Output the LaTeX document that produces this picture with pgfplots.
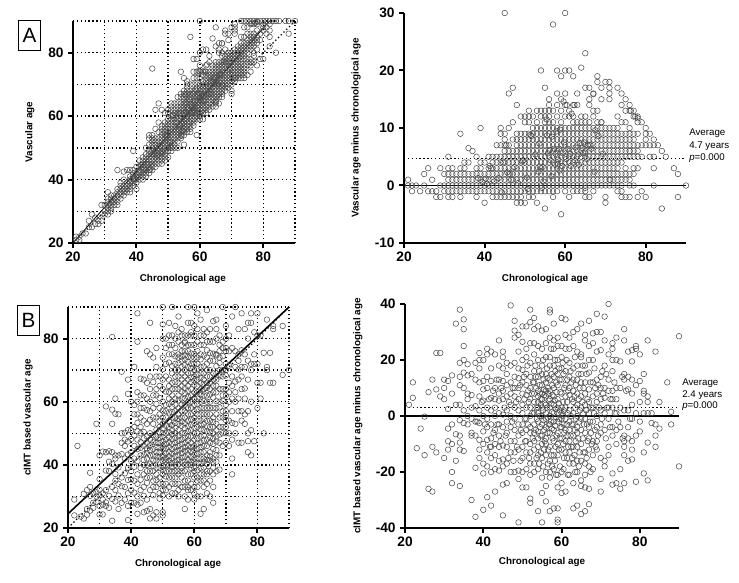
\documentclass[border=0pt]{standalone}
\usepackage{pgfplots}
\usepackage{pgfplotstable}
\usepackage{fontspec}
\setmainfont{Liberation Sans}
\pgfplotsset{compat=1.18}
\newlength{\px}\setlength{\px}{0.75pt}
% Panel A: chronological age, vascular age minus chronological age
\pgfplotstableread[row sep=crcr]{x d\\
21 1\\21 0\\22 0\\22 -1\\23 0\\24 -1\\25 2\\25 0\\26 3\\26 -1\\27 1\\27 -1\\28 -1\\28 -2\\29 3\\29 0\\29 -2\\30 2\\30 0\\30 -1\\
31 5\\31 3\\31 2\\31 1\\31 0\\31 -1\\31 -2\\32 3\\32 2\\32 1\\32 0\\32 -1\\32 -2\\33 2\\33 1\\33 0\\33 -1\\
34 9\\34 3\\34 2\\34 1\\34 0\\34 -1\\34 -2\\35 4\\35 3\\35 2\\35 1\\35 0\\35 -1\\36 6.5\\36 4\\36 2\\36 1\\36 0\\36 -1\\
37 6\\37 2\\37 1\\37 0\\37 -1\\38 5\\38 3\\38 2\\38 1\\38 0\\38 -1\\38 -2\\39 10\\39 4\\39 3\\39 2\\39 1\\39 0\\39 -1\\
40 4\\40 2\\40 1\\40 0\\40 -1\\40 -3\\41 5\\41 3\\41 2\\41 1\\41 0\\41 -1\\42 5\\42 4\\42 3\\42 2\\42 1\\42 0\\42 -1\\42 -2\\
43 7\\43 5\\43 4\\43 3\\43 2\\43 1\\43 0\\43 -1\\43 -2\\44 10\\44 9\\44 7\\44 5\\44 4\\44 3\\44 2\\44 1\\44 0\\44 -1\\44 -2\\
45 30\\45 9\\45 8\\45 7\\45 6\\45 5\\45 4\\45 3\\45 2\\45 1\\45 0\\45 -1\\45 -2\\
46 16\\46 10\\46 7\\46 6\\46 5\\46 4\\46 3\\46 2\\46 1\\46 0\\46 -1\\46 -2\\
47 17\\47 11\\47 8\\47 6\\47 5\\47 4\\47 3\\47 2\\47 1\\47 0\\47 -1\\47 -2\\
48 14\\48 9\\48 8\\48 7\\48 6\\48 5\\48 4\\48 3\\48 2\\48 1\\48 0\\48 -1\\48 -2\\48 -3\\
49 12\\49 9\\49 8\\49 7\\49 6\\49 5\\49 4\\49 3\\49 2\\49 1\\49 0\\49 -1\\49 -2\\49 -3\\
50 12\\50 11\\50 9\\50 8\\50 7\\50 6\\50 5\\50 4\\50 3\\50 2\\50 1\\50 0\\50 -1\\50 -3\\
51 13\\51 12\\51 11\\51 9\\51 8\\51 7\\51 6\\51 5\\51 4\\51 3\\51 2\\51 1\\51 0\\51 -1\\51 -2\\
52 12\\52 10\\52 9\\52 8\\52 7\\52 6\\52 5\\52 4\\52 3\\52 2\\52 1\\52 0\\52 -1\\52 -2\\
53 13\\53 11\\53 10\\53 9\\53 8\\53 7\\53 6\\53 5\\53 4\\53 3\\53 2\\53 1\\53 0\\53 -1\\53 -3\\
54 20\\54 13\\54 12\\54 10\\54 9\\54 8\\54 7\\54 6\\54 5\\54 4\\54 3\\54 2\\54 1\\54 0\\54 -1\\
55 17\\55 13\\55 12\\55 11\\55 10\\55 9\\55 8\\55 7\\55 6\\55 5\\55 4\\55 3\\55 2\\55 1\\55 0\\55 -1\\55 -4\\
56 15\\56 14\\56 13\\56 12\\56 11\\56 10\\56 9\\56 8\\56 7\\56 6\\56 5\\56 4\\56 3\\56 2\\56 1\\56 0\\56 -1\\
57 28\\57 13\\57 11\\57 10\\57 9\\57 8\\57 7\\57 6\\57 5\\57 4\\57 3\\57 2\\57 1\\57 0\\57 -1\\57 -2\\
58 20\\58 16\\58 14\\58 12\\58 10\\58 9\\58 8\\58 7\\58 6\\58 5\\58 4\\58 3\\58 2\\58 1\\58 0\\58 -1\\
59 19\\59 15\\59 13\\59 11\\59 10\\59 9\\59 8\\59 7\\59 6\\59 5\\59 4\\59 3\\59 2\\59 1\\59 0\\59 -5\\
60 30\\60 20\\60 16\\60 14\\60 12\\60 10\\60 9\\60 8\\60 7\\60 6\\60 5\\60 4\\60 3\\60 2\\60 1\\60 0\\60 -1\\
61 20\\61 13\\61 12\\61 10\\61 9\\61 8\\61 7\\61 6\\61 5\\61 4\\61 3\\61 2\\61 1\\61 0\\61 -2\\
62 19\\62 14\\62 12\\62 11\\62 10\\62 9\\62 8\\62 7\\62 6\\62 5\\62 4\\62 3\\62 2\\62 1\\62 0\\62 -1\\
63 16\\63 14\\63 11\\63 10\\63 9\\63 8\\63 7\\63 6\\63 5\\63 4\\63 3\\63 2\\63 1\\63 0\\63 -1\\
64 20.5\\64 12\\64 11\\64 10\\64 9\\64 8\\64 7\\64 6\\64 5\\64 4\\64 3\\64 2\\64 1\\64 0\\64 -1\\
65 23\\65 17\\65 12\\65 11\\65 10\\65 9\\65 8\\65 7\\65 6\\65 5\\65 4\\65 3\\65 2\\65 1\\65 0\\65 -1\\65 -2\\
66 17\\66 15\\66 14\\66 11\\66 10\\66 9\\66 8\\66 7\\66 6\\66 5\\66 4\\66 3\\66 2\\66 1\\66 0\\66 -2\\
67 16\\67 13\\67 12\\67 10\\67 9\\67 8\\67 7\\67 6\\67 5\\67 4\\67 3\\67 2\\67 1\\67 0\\67 -1\\
68 19\\68 18\\68 13\\68 11\\68 10\\68 9\\68 8\\68 7\\68 6\\68 5\\68 4\\68 3\\68 2\\68 1\\68 0\\
69 17\\69 15\\69 11\\69 10\\69 9\\69 8\\69 7\\69 6\\69 5\\69 4\\69 3\\69 2\\69 1\\69 0\\
70 18\\70 10\\70 9\\70 8\\70 7\\70 6\\70 5\\70 4\\70 3\\70 2\\70 1\\70 0\\70 -2\\70 -3\\
71 18\\71 17\\71 16\\71 15\\71 10\\71 9\\71 8\\71 7\\71 6\\71 5\\71 4\\71 3\\71 2\\71 1\\71 0\\
72 10\\72 9\\72 8\\72 7\\72 6\\72 5\\72 4\\72 3\\72 2\\72 1\\72 0\\
73 17\\73 12\\73 10\\73 9\\73 8\\73 7\\73 6\\73 5\\73 4\\73 3\\73 2\\73 1\\73 0\\73 -1\\
74 16\\74 14\\74 11\\74 9\\74 8\\74 7\\74 6\\74 5\\74 4\\74 2\\74 1\\74 0\\74 -1\\74 -2\\
75 15\\75 13\\75 11\\75 9\\75 8\\75 7\\75 6\\75 5\\75 3\\75 2\\75 1\\75 -2\\
76 14\\76 13\\76 10\\76 9\\76 8\\76 7\\76 6\\76 5\\76 2\\76 1\\76 0\\76 -2\\
77 13\\77 12\\77 9\\77 8\\77 7\\77 6\\77 5\\77 3\\77 2\\77 0\\78 12\\78 11\\78 9\\78 7\\78 6\\78 5\\78 3\\78 -2\\
79 11\\79 7\\79 5\\79 -1\\80 10\\80 9\\80 8\\80 7\\80 -2\\81 9\\81 7\\81 5\\82 8\\82 7\\82 5\\82 3\\82 0\\83 7\\84 6\\84 -4\\85 5\\87 3\\88 2\\88 -2\\90 0\\
38.4 1.3\\39.5 0.6\\40.3 1.2\\40.6 0.3\\41.3 3.4\\41.6 3\\42.4 0.7\\43.5 1.3\\44.3 -1.2\\44.6 4\\45.4 7\\45.6 2.3\\46.3 2\\46.6 1\\47.4 3.2\\48.3 0.4\\49.6 4.4\\49.4 4.2\\50.5 1.4\\50.7 -0.6\\51.4 8.8\\51.6 8.6\\52.6 5.4\\53.4 2.4\\53.6 7.3\\53.7 3.3\\54.2 -0.4\\54.4 3.2\\54.6 0.7\\55.5 8.7\\55.7 5.6\\55.4 11.5\\56.2 6.2\\56.4 4.4\\56.6 1.6\\56.7 8.5\\57.3 6.4\\57.5 3.6\\57.6 5.5\\57.8 9.4\\58.2 3.7\\58.3 4.5\\58.5 6.4\\58.6 2.6\\58.7 9.7\\59.3 3.4\\59.4 5.6\\59.6 14.6\\59.7 7.5\\60.3 4.6\\60.4 14\\60.6 6.4\\61.3 5.5\\61.4 3.4\\61.6 12.5\\62.3 14\\62.4 4.4\\62.6 6.6\\63.3 5.4\\63.4 3.6\\63.6 7.4\\64.3 6.5\\64.5 5.6\\64.7 7.5\\65 5.7\\65 -0.4\\65.4 4.6\\65.6 7\\66.3 7\\66.5 6.4\\67 15.9\\67.3 2.4\\67.5 9.6\\68.3 8.6\\69 11\\69.4 5.5\\71.2 1\\76 6\\76.3 13\\77.4 12\\78 11.7\\
}\tableA
% Panel B, left: chronological age, cIMT based vascular age
\pgfplotstableread[row sep=crcr]{x y\\
22 29\\22 24\\23 46\\24 23.6\\25 23\\25 30.8\\26 24.2\\26 32\\26 26\\27 37.5\\27 33\\27 25.5\\27 30.2\\28 28\\28 26.4\\28 31\\29 53\\29 31.3\\29 28.2\\29 30\\
30 35.5\\30 43\\30 30.4\\30 27\\30 32.1\\30 24.3\\31 44.2\\31 31\\31 29\\31 24.3\\31 27.4\\32 58.5\\32 44\\32 38.2\\32 28.1\\32 32\\32 27\\33 44.3\\33 38\\33 30.2\\33 26.4\\33 41\\
34 80.5\\34 57.5\\34 53\\34 44\\34 40.3\\34 22.3\\34 33\\34 29.2\\35 61\\35 56.2\\35 43\\35 37.1\\35 32\\35 28.4\\35 42\\35 35\\36 56\\36 39.2\\36 34\\36 26\\36 30.3\\36 43\\
37 69.5\\37 50\\37 43.4\\37 36\\37 33.2\\37 28\\37 47\\38 50.2\\38 48\\38 42\\38 37.3\\38 33\\38 29\\38 46\\39 67\\39 62.5\\39 51\\39 43.3\\39 39\\39 35.2\\39 31\\39 27\\39 22.5\\39 47.4\\
40 60\\40 51\\40 48.2\\40 44\\40 38\\40 35.4\\40 32\\40 28\\40 41.2\\41 71\\41 56\\41 49.3\\41 46\\41 42\\41 39.4\\41 35\\41 31.2\\41 28\\
42 88\\42 79\\42 63\\42 56\\42 53.3\\42 48\\42 45\\42 41.2\\42 37\\42 34\\42 30\\42 27.4\\42 24.5\\43 62\\43 55\\43 52\\43 47.2\\43 43\\43 39\\43 35.3\\43 32\\43 28\\43 67.3\\
44 67\\44 58\\44 54\\44 50.4\\44 46\\44 43.3\\44 40\\44 33\\44 30.2\\44 25\\45 76\\45 66\\45 57.4\\45 53\\45 49\\45 45.2\\45 42\\45 38\\45 34.3\\45 29\\45 25.4\\
46 85\\46 75\\46 68\\46 60\\46 54.3\\46 50\\46 46.2\\46 43\\46 40.4\\46 36\\46 32\\46 26\\46 23\\47 74\\47 66.2\\47 58\\47 53\\47 49.4\\47 45\\47 41.3\\47 38\\47 35\\47 30.4\\47 24\\
48 77\\48 71\\48 68\\48 64\\48 59.3\\48 55\\48 51.2\\48 47\\48 44\\48 41.4\\48 37\\48 35.2\\48 25\\48 23\\49 65\\49 61.2\\49 58\\49 54\\49 50.3\\49 47\\49 44\\49 42.4\\49 39\\49 36\\49 31\\49 29.3\\
50 90\\50 84.5\\50 80\\50 74\\50 70.3\\50 64\\50 60\\50 57.2\\50 53\\50 50\\50 47.4\\50 45\\50 43\\50 41.2\\50 37\\50 34\\50 30.3\\50 25\\50 24\\
51 80\\51 68\\51 63.2\\51 59\\51 55\\51 52.4\\51 48\\51 45.2\\51 42\\51 40\\51 36.3\\51 32\\52 85\\52 78\\52 72.4\\52 67\\52 63\\52 59.3\\52 54\\52 50.2\\52 47\\52 44\\52 41.4\\52 38\\52 33\\52 30\\
53 90\\53 81\\53 75\\53 71.3\\53 66\\53 62\\53 58.4\\53 55\\53 51\\53 48.2\\53 45\\53 42\\53 39.3\\53 36\\53 31\\54 84\\54 80\\54 74.4\\54 70\\54 66.2\\54 61\\54 57\\54 53.3\\54 50\\54 47\\54 44.2\\54 41\\54 38\\54 34\\
55 87\\55 79\\55 75\\55 72.2\\55 68\\55 64\\55 60.4\\55 56\\55 53\\55 49.3\\55 46\\55 43\\55 40.2\\55 37\\55 34\\55 30\\56 83\\56 78\\56 74.3\\56 71\\56 67\\56 63.2\\56 59\\56 55\\56 52.4\\56 48\\56 45\\56 42.3\\56 39\\56 36\\
57 81\\57 76\\57 73.4\\57 70\\57 68\\57 64.3\\57 61\\57 57\\57 53.2\\57 50\\57 47\\57 44.4\\57 41\\57 38\\57 33\\57 26\\58 90\\58 85\\58 81\\58 74.2\\58 71\\58 67\\58 63.4\\58 60\\58 56\\58 52.3\\58 49\\58 46\\58 43.2\\58 40\\58 35\\58 32\\58 29\\
59 85\\59 78\\59 75.3\\59 72\\59 69\\59 66.2\\59 62\\59 58\\59 54.4\\59 51\\59 47\\59 44.3\\59 41\\59 37\\59 34\\60 90\\60 84\\60 75.2\\60 72\\60 68\\60 65.4\\60 61\\60 57\\60 53.3\\60 50\\60 46\\60 43.2\\60 41\\60 36\\60 31\\60 29\\
61 88\\61 79\\61 74\\61 70.3\\61 67\\61 63\\61 59.2\\61 56\\61 52\\61 48.4\\61 45\\61 42\\61 38.3\\61 35\\61 30\\62 86\\62 81\\62 73.4\\62 69\\62 66\\62 62.2\\62 58\\62 54\\62 51.3\\62 47\\62 44\\62 40.4\\62 37\\62 30\\62 24.5\\
63 83\\63 78\\63 71.2\\63 67\\63 64\\63 60.3\\63 56\\63 53\\63 49.4\\63 46\\63 42\\63 39.2\\63 33\\63 26\\64 89\\64 82\\64 76.3\\64 72\\64 68\\64 64.4\\64 60\\64 56\\64 52.2\\64 48\\64 43\\64 40.3\\64 37\\64 31\\
65 79\\65 75.4\\65 70\\65 66\\65 62.3\\65 58\\65 54\\65 50.2\\65 47\\65 44\\65 41.4\\65 30\\66 85.5\\66 79\\66 75.2\\66 69\\66 65\\66 61.3\\66 55\\66 52\\66 48.4\\66 45\\66 42\\66 33\\66 28\\
67 86\\67 80\\67 75\\67 71.3\\67 67\\67 63\\67 60.2\\67 56\\67 51\\67 47.4\\67 43\\67 41\\68 81\\68 78\\68 72.3\\68 68\\68 64\\68 58.2\\68 52\\68 47\\68 38.5\\69 90\\69 79\\69 74.4\\69 70\\69 64\\69 60.3\\69 55\\69 50\\
70 84\\70 80\\70 72\\70 68.3\\70 62\\70 59\\70 57\\70 54.2\\70 52\\70 50\\71 81\\71 76\\71 71.4\\71 66\\71 60\\71 54\\71 46\\72 87\\72 77\\72 68\\72 61\\72 53.3\\72 48\\72 42\\72 37\\
73 90\\73 76\\73 71\\73 66.4\\73 60\\73 53\\74 83\\74 75\\74 70.2\\74 67\\74 61\\74 47\\75 88\\75 76.3\\75 71\\75 64\\75 57\\75 54\\76 83\\76 75\\76 71\\76 64.2\\76 61\\76 56\\76 53\\
77 85\\77 80\\77 73\\77 67\\77 57\\77 50\\77 47.5\\77 44\\78 88\\78 85\\78 72\\78 70\\78 60\\78 51\\78 43\\79 82\\79 75\\79 72\\79 47.5\\80 88\\80 81\\80 72\\80 66\\80 58\\81 81\\81 66\\81 61\\
82 75.5\\82 50\\83 86\\83 71\\83 70\\84 75.5\\84 66\\85 84\\85 83\\85 66\\88 84\\88 68.5\\90 70\\
42 50.6\\43 45.4\\43 50\\44 48.4\\44 41.6\\45 47\\45 43.7\\45 40\\46 48\\46 44.6\\46 38\\47 43\\47 39.7\\47 47.2\\48 49\\48 45.6\\48 42.7\\48 39\\49 48.6\\49 45.5\\49 41\\49 52\\
50 55\\50 51.6\\50 48.8\\50 46\\50 42.4\\50 39.6\\51 57\\51 50\\51 46.7\\51 43.6\\51 41\\51 38\\52 65\\52 61\\52 56.6\\52 52\\52 48.7\\52 45.6\\52 42.7\\52 40\\
53 69\\53 64\\53 60\\53 56.7\\53 52.6\\53 49.7\\53 46.7\\53 43.6\\53 40.6\\54 72\\54 68\\54 64\\54 59\\54 55\\54 51.7\\54 48.6\\54 45.6\\54 42.7\\54 40\\
55 74\\55 70\\55 66\\55 62\\55 58\\55 54.6\\55 51\\55 47.7\\55 44.6\\55 41.6\\56 76\\56 73\\56 69\\56 65\\56 61\\56 57\\56 53.7\\56 50\\56 46.6\\56 43.7\\56 41\\
57 78.6\\57 74.7\\57 71.6\\57 66\\57 62.7\\57 59\\57 55\\57 51.6\\57 48.6\\57 45.6\\57 42.6\\57 40\\58 76\\58 72.6\\58 69\\58 65\\58 61.6\\58 58\\58 54\\58 50.6\\58 47.7\\58 44.6\\58 41.6\\
59 82\\59 74\\59 70.6\\59 67.7\\59 64\\59 60\\59 56\\59 52.7\\59 49\\59 45.6\\59 42.6\\59 40\\60 78\\60 74\\60 70\\60 66.7\\60 63\\60 59\\60 55\\60 51.7\\60 48\\60 44.7\\60 42\\60 39\\
61 76\\61 72\\61 68.6\\61 65\\61 61\\61 57.6\\61 54\\61 50\\61 46.7\\61 43.6\\61 40.6\\62 75\\62 71\\62 67.6\\62 64\\62 60\\62 56\\62 52.7\\62 49\\62 45.6\\62 42\\
63 74.6\\63 69\\63 65.6\\63 62\\63 58\\63 54.6\\63 51\\63 47.7\\63 44\\63 41\\64 74\\64 70\\64 66\\64 62\\64 58\\64 54\\64 50.6\\64 46\\64 41.6\\65 73\\65 68\\65 64\\65 60\\65 56\\65 52\\65 48.7\\65 42.7\\
66 73\\66 67\\66 63\\66 58\\66 53.6\\66 50\\66 46.7\\66 41\\67 74.7\\67 69\\67 65\\67 58\\67 53\\67 49\\67 44.7\\68 74\\68 70\\68 60\\68 55\\68 49.6\\69 68\\69 62\\69 57\\69 52\\70 76\\70 70\\70 64\\70 55.7\\
41 52\\41 59\\42 60\\43 58\\44 62\\44 37\\45 61\\45 36\\46 57\\46 64\\47 62\\47 55\\47 33\\48 62\\48 33\\49 68\\49 34\\49 56\\50 67\\50 32\\50 38.4\\51 72\\51 34\\51 77\\52 36\\52 81\\52 75\\53 34\\53 38\\53 78\\54 36\\54 31\\54 77\\55 32\\55 38\\55 82\\56 38\\56 33\\56 81\\57 35\\57 30\\57 79\\58 37\\58 33\\58 78\\59 39\\59 32\\59 81\\60 38\\60 33\\60 81\\61 36\\61 33\\61 83\\62 35\\62 39\\62 78\\63 37\\63 35\\63 81\\64 38\\64 34\\64 79\\65 38\\65 35\\65 83\\66 37\\66 39\\67 38\\67 83\\68 43\\68 76\\69 46\\69 77\\70 47\\70 77\\71 50\\71 63\\72 57\\72 65\\73 50\\73 63\\74 57\\74 73\\75 47\\75 68\\
}\tableBl
% Panel B, right: chronological age, cIMT based vascular age minus chronological age
\pgfplotstableread[row sep=crcr]{x d\\
21 4\\22 12\\22 6.5\\23 -11.5\\24 -4.5\\25 -0.2\\25 -14\\26 8.5\\26 -26\\27 13\\27 -11\\27 -27\\28 22.5\\28 9.5\\28 -13\\29 22.5\\29 7\\30 13\\30 10\\30 6\\30 -15\\
31 12.5\\31 2.5\\31 -4.5\\31 -9\\31 -12\\32 14.5\\32 8\\32 -3\\32 -10\\32 -20\\32 -24\\33 33\\33 4\\33 -6.5\\33 -16\\34 38\\34 19\\34 14\\34 11\\34 4\\34 -1.5\\34 -7\\34 -9.5\\34 -12\\34 -25\\
35 34.5\\35 31\\35 25\\35 20\\35 15.5\\35 10\\35 2\\35 -2.5\\35 -12.5\\36 18.5\\36 14.5\\36 8\\36 6\\36 0\\36 -3\\37 15\\37 7.5\\37 3\\37 -1\\37 -6\\37 -7\\37 -30\\
38 19\\38 13\\38 3.5\\38 -2\\38 -7\\38 -18.5\\38 -36\\39 22.5\\39 20\\39 17\\39 12\\39 7\\39 2\\39 -2.5\\39 -8.5\\39 -12\\39 -15\\40 20\\40 12.5\\40 9.5\\40 5.5\\40 0\\40 -5.5\\40 -10\\40 -17\\40 -20.5\\40 -33.5\\
41 24\\41 22\\41 14\\41 10\\41 3\\41 -1\\41 -4\\41 -8.5\\41 -13\\41 -18\\41 -29\\42 23\\42 17\\42 12.5\\42 6.5\\42 2\\42 -3\\42 -8\\42 -11\\42 -15\\42 -20\\42 -32\\
43 22\\43 10\\43 6\\43 3\\43 0\\43 -5\\43 -10\\43 -14\\43 -19\\43 -27\\44 27\\44 18\\44 13\\44 8\\44 5.5\\44 1\\44 -3\\44 -7\\44 -11\\44 -16\\44 -19.5\\
45 23\\45 21\\45 17\\45 12.5\\45 9\\45 6\\45 0.5\\45 -4\\45 -10.5\\45 -15.5\\45 -18\\45 -24.5\\45 -35.5\\46 19\\46 15\\46 11\\46 7\\46 2\\46 -2\\46 -6\\46 -11\\46 -17\\46 -24\\
47 39.5\\47 18\\47 12\\47 8\\47 4\\47 0\\47 -4\\47 -9\\47 -13\\47 -20\\48 34\\48 30.5\\48 28\\48 19\\48 14\\48 10\\48 7\\48 3\\48 -1\\48 -5\\48 -9\\48 -13\\48 -20\\
49 29\\49 23\\49 17\\49 13.5\\49 10\\49 6\\49 2\\49 -3\\49 -7\\49 -12\\49 -19.5\\49 -22.5\\49 -38\\50 32\\50 26.5\\50 20\\50 16.5\\50 12\\50 8\\50 4\\50 1\\50 -3\\50 -6\\50 -11\\50 -15\\50 -20\\50 -25.5\\
51 32\\51 24\\51 21\\51 15\\51 11\\51 7.5\\51 3\\51 -1\\51 -5\\51 -9\\51 -13\\51 -19\\51 -25.5\\52 38\\52 33.5\\52 26\\52 19\\52 14\\52 10\\52 6\\52 3\\52 0\\52 -4\\52 -6\\52 -10\\52 -13\\52 -17\\52 -21\\52 -29.5\\52 -31\\
53 35\\53 31\\53 26\\53 22\\53 16\\53 12\\53 8\\53 5\\53 1\\53 -3\\53 -6\\53 -9\\53 -12\\53 -17\\53 -20\\54 32\\54 25\\54 20\\54 14\\54 9\\54 7\\54 5\\54 3\\54 1\\54 -2\\54 -5.5\\54 -8\\54 -11\\54 -14\\54 -19\\54 -34\\
55 30.5\\55 24\\55 18\\55 15\\55 11\\55 8\\55 6\\55 3\\55 0\\55 -3\\55 -7\\55 -10\\55 -15\\55 -22\\55 -27.5\\55 -38\\56 31\\56 26\\56 21\\56 15\\56 12\\56 9\\56 7\\56 4\\56 1\\56 -1\\56 -4\\56 -8\\56 -10\\56 -14\\56 -20\\56 -25\\56 -30.5\\
57 37\\57 38\\57 28\\57 21\\57 18\\57 13\\57 9\\57 6\\57 3\\57 0\\57 -3\\57 -6\\57 -11\\57 -16\\57 -20\\57 -22\\57 -34\\58 33\\58 27\\58 24\\58 18\\58 14\\58 10\\58 7\\58 4\\58 1\\58 -2\\58 -5\\58 -9\\58 -14\\58 -19\\58 -33\\
59 28\\59 25\\59 20\\59 15\\59 11\\59 6\\59 3\\59 1\\59 -2\\59 -6\\59 -10\\59 -14\\59 -21\\59 -25.5\\59 -33\\59 -37\\59 -38\\60 35\\60 25\\60 21\\60 17\\60 13\\60 8\\60 3\\60 1\\60 -1\\60 -4\\60 -8\\60 -12\\60 -20\\60 -24\\60 -27.5\\
61 34.5\\61 29\\61 24\\61 16\\61 11\\61 7\\61 3\\61 -1\\61 -5\\61 -9\\61 -13\\61 -27\\62 28\\62 24\\62 19\\62 14\\62 10\\62 7.5\\62 2\\62 -2\\62 -5\\62 -9\\62 -13\\62 -17\\62 -21\\63 30\\63 25\\63 17\\63 13\\63 9\\63 5\\63 1\\63 -3\\63 -7\\63 -11\\63 -17\\63 -24\\63 -33\\
64 31\\64 23\\64 18\\64 13\\64 8\\64 4\\64 0\\64 -4\\64 -6\\64 -11\\64 -16\\64 -20\\64 -32\\65 33\\65 22\\65 21\\65 15\\65 12\\65 7\\65 3\\65 -1\\65 -5\\65 -10\\65 -16\\65 -23\\65 -25\\65 -35\\66 29\\66 27\\66 18\\66 12\\66 8\\66 4\\66 -1\\66 -6\\66 -13\\66 -17\\66 -21\\66 -25.5\\66 -34\\
67 34\\67 25\\67 20\\67 15.5\\67 9.5\\67 5\\67 1\\67 -4\\67 -8\\67 -12\\67 -18\\67 -26\\67 -31.5\\68 29.5\\68 26\\68 20\\68 12\\68 7\\68 3\\68 -2\\68 -9\\68 -14\\68 -19\\69 36.5\\69 30\\69 23\\69 13\\69 8\\69 5\\69 0\\69 -4\\69 -9\\69 -12\\
70 30\\70 23.5\\70 14\\70 10\\70 6\\70 2\\70 -3\\70 -6\\70 -15\\70 -22.5\\70 -27\\71 35.5\\71 27\\71 18\\71 10\\71 6.5\\71 1\\71 -5\\71 -16\\71 -18\\72 40\\72 22\\72 13\\72 9\\72 3\\72 -1\\72 -11\\72 -14\\
73 26\\73 24\\73 20\\73 16\\73 9\\73 6\\73 3\\73 -4\\73 -7\\73 -20.5\\73 -24.5\\74 28\\74 20\\74 10\\74 6\\74 1\\74 -5\\74 -10\\74 -24\\75 19.5\\75 10\\75 3\\75 -4\\75 -19\\75 -26\\76 31\\76 27\\76 15\\76 13\\76 2\\76 -7\\76 -9\\76 -11\\76 -14\\76 -24\\
77 23\\77 14\\77 9.5\\77 2\\77 -4\\77 -8\\77 -16\\78 23.5\\78 19.5\\78 13\\78 8\\78 4\\78 -1\\78 -9\\78 -12\\78 -15.5\\79 25\\79 24\\79 11\\79 1\\79 -7\\79 -23.5\\80 22\\80 12.5\\80 5\\80 -2\\80 -5.5\\
81 15\\81 9\\81 8\\81 1\\81 -13\\81 -20.5\\82 27\\82 7\\82 5\\82 1\\82 -9.5\\82 -23\\83 1\\83 -2.5\\84 23\\84 -3\\84 -7\\84 -11\\85 5\\85 -4.5\\87 12\\88 1.5\\88 -3\\90 28.5\\90 -18\\
38.5 -2\\39.6 5\\40.4 -3\\41.5 6\\41.7 -11\\42.5 9\\42.6 -6\\43.4 13\\43.6 -3\\44.4 -9\\44.6 10\\45.4 3\\45.7 -7\\46.4 -15\\46.6 5\\47.5 10\\47.4 -2\\47.7 -16\\48.4 5\\48.6 -11\\49.4 11\\49.6 -5\\49.5 -16\\
50.4 14\\50.5 6\\50.6 -1\\50.7 -9\\51.3 18\\51.5 9\\51.6 5\\51.4 -3\\51.7 -15\\52.4 8\\52.5 1\\52.6 -8\\52.7 12\\53.3 18\\53.4 14\\53.5 10\\53.6 3\\53.7 -1\\53.4 -5\\53.6 -15\\
54.3 16\\54.4 11\\54.5 8\\54.6 6\\54.7 4\\54.4 0\\54.5 -4\\54.6 -7\\54.7 -13\\54.3 -17\\55.3 20\\55.4 13\\55.5 9.5\\55.6 7.5\\55.7 4.5\\55.3 2\\55.4 -1.5\\55.6 -5\\55.7 -9\\55.5 -12\\55.3 -18\\
56.3 17\\56.4 13.5\\56.5 10\\56.6 8\\56.7 5.5\\56.3 3\\56.5 -0.5\\56.7 -3\\56.4 -6\\56.6 -12\\56.5 -17\\57.3 24\\57.5 15\\57.6 11\\57.7 7.5\\57.4 4.5\\57.6 1.5\\57.3 -2\\57.5 -4.5\\57.7 -8\\57.4 -14\\57.6 -18\\
58.3 20\\58.4 16\\58.6 12\\58.7 8.5\\58.3 5.5\\58.5 2.5\\58.6 -0.5\\58.4 -3.5\\58.7 -7\\58.5 -11\\58.3 -16\\58.6 -21\\59.4 17\\59.5 13\\59.7 8.5\\59.3 4.5\\59.6 2\\59.4 -1\\59.7 -4\\59.5 -8\\59.3 -12\\59.6 -18\\
60.3 19\\60.5 15\\60.7 10\\60.4 5\\60.6 2\\60.3 0\\60.5 -3\\60.7 -6\\60.4 -10\\60.6 -15\\60.5 -19\\61.3 20\\61.5 13\\61.7 9\\61.4 5\\61.6 1\\61.3 -3\\61.5 -7\\61.7 -11\\61.4 -15\\61.6 -21\\
62.3 16\\62.5 12\\62.7 6\\62.4 0\\62.6 -3\\62.3 -7\\62.5 -11\\62.7 -15\\63.4 21\\63.6 11\\63.3 7\\63.5 3\\63.7 -1\\63.4 -5\\63.6 -9\\63.3 -14\\63.5 -20\\64.3 15\\64.6 10\\64.4 6\\64.7 2\\64.5 -2\\64.3 -8\\64.6 -13\\64.4 -18\\
65.4 18\\65.6 10\\65.3 5\\65.5 1\\65.7 -3\\65.4 -8\\65.6 -13\\66.4 15\\66.6 6\\66.3 2\\66.5 -3\\66.7 -9\\66.4 -15\\67.4 12\\67.6 3\\67.3 -2\\67.5 -6\\67.7 -10\\67.4 -20\\68.4 17\\68.6 10\\68.3 1\\68.5 -5\\68.7 -11\\
69.4 11\\69.6 3\\69.3 -7\\70.4 16\\70.6 8\\70.3 -1\\71.4 15\\71.6 3\\71.3 -8\\72.5 6\\72.4 -4\\73.5 12\\73.6 1\\74.5 -2\\75.5 14\\75.6 -8\\76.5 9\\77.5 -1\\
}\tableBr
\pgfplotsset{
  panel/.style={
    scale only axis, anchor=south west, axis x line=bottom, axis y line=left, axis line style={line width=1.9pt,-},
    xmin=20,xmax=90,xtick={20,40,60,80},
    major tick length=3.5pt, tick style={line width=1.5pt,black}, minor tick length=0pt,
    tick align=outside,
    ticklabel style={font=\fontsize{10.3}{11}\selectfont\bfseries},
    /pgf/number format/assume math mode=true,
    xtick pos=lower, ytick pos=left,
    label style={font=\fontsize{7.4}{8}\selectfont\bfseries},
    clip=false,
  },
  griddy/.style={
    grid=both, grid style={dash pattern=on 1pt off 1.9pt,line width=1pt,black},
    minor xtick={30,50,70,90},minor ytick={30,50,70,90},
    ymin=20,ymax=90,ytick={20,40,60,80},
  },
  circ/.style={only marks,mark=o,mark size=2.1pt,mark options={line width=0.4pt,draw=black!70}},
}
\begin{document}
\begin{tikzpicture}[x=\px,y=\px]
\useasboundingbox (0,0) rectangle (739,582);
% A left
\begin{axis}[panel,griddy,at={(73\px,339\px)},width=222\px,height=222\px,
  xlabel={Chronological age},ylabel={Vascular age},
  xlabel style={at={(axis description cs:0.495,-0.162)},anchor=center},
  ylabel style={at={(axis description cs:-0.194,0.5)},anchor=center}]
\addplot[circ] table[x=x,y expr=\thisrow{x}+\thisrow{d}] {\tableA};
\addplot[black,line width=0.6pt] coordinates {(20,20)(82,90)};
\addplot[black,dash pattern=on 1pt off 1.9pt,line width=1pt] coordinates {(20,20)(90,90)};
\end{axis}
% A right
\begin{axis}[panel,at={(404\px,339\px)},width=282\px,height=230\px,
  ymin=-10,ymax=30,ytick={-10,0,10,20,30},
  xlabel={Chronological age},ylabel={Vascular age minus chronological age},
  xlabel style={at={(axis description cs:0.500,-0.157)},anchor=center},
  ylabel style={at={(axis description cs:-0.17,0.5)},anchor=center}]
\addplot[circ] table[x=x,y=d] {\tableA};
\addplot[black,line width=1.2pt] coordinates {(20,0)(90,0)};
\addplot[black,dash pattern=on 1pt off 1.9pt,line width=1pt] coordinates {(20,4.7)(90,4.7)};
\end{axis}
% B left
\begin{axis}[panel,griddy,at={(68\px,54\px)},width=221\px,height=221\px,
  xlabel={Chronological age},ylabel={cIMT based vascular age},
  xlabel style={at={(axis description cs:0.498,-0.163)},anchor=center},
  ylabel style={at={(axis description cs:-0.181,0.5)},anchor=center}]
\addplot[circ] table[x=x,y=y] {\tableBl};
\addplot[black,line width=1.2pt] coordinates {(20,24.5)(90,90)};
\addplot[black,dash pattern=on 1pt off 1.9pt,line width=1pt] coordinates {(20,20)(90,90)};
\end{axis}
% B right
\begin{axis}[panel,at={(405\px,54\px)},width=274\px,height=224\px,
  ymin=-40,ymax=40,ytick={-40,-20,0,20,40},
  xlabel={Chronological age},ylabel={cIMT based vascular age minus chronological age},
  xlabel style={at={(axis description cs:0.500,-0.152)},anchor=center},
  ylabel style={at={(axis description cs:-0.172,0.5)},anchor=center}]
\addplot[circ] table[x=x,y=d] {\tableBr};
\addplot[black,line width=1.2pt] coordinates {(20,0)(90,0)};
\addplot[black,dash pattern=on 1pt off 1.9pt,line width=1pt] coordinates {(20,3)(90,3)};
\end{axis}
\node[draw,line width=1.1pt,minimum width=22\px,minimum height=30\px,inner sep=0pt,font=\fontsize{15.5}{16}\selectfont] at (29.5,546.5) {A};
\node[draw,line width=0.9pt,minimum width=22\px,minimum height=30\px,inner sep=0pt,font=\fontsize{15.5}{16}\selectfont] at (28.5,261.5) {B};
\node[anchor=west,inner sep=0pt,font=\fontsize{7.3}{9}\selectfont] at (689,449) {Average};
\node[anchor=west,inner sep=0pt,font=\fontsize{7.3}{9}\selectfont] at (689,436) {4.7 years};
\node[anchor=west,inner sep=0pt,font=\fontsize{7.3}{9}\selectfont] at (689,424) {\emph{p}=0.000};
\node[anchor=west,inner sep=0pt,font=\fontsize{7.3}{9}\selectfont] at (682,199) {Average};
\node[anchor=west,inner sep=0pt,font=\fontsize{7.3}{9}\selectfont] at (682,187) {2.4 years};
\node[anchor=west,inner sep=0pt,font=\fontsize{7.3}{9}\selectfont] at (682,176) {\emph{p}=0.000};
\end{tikzpicture}
\end{document}
